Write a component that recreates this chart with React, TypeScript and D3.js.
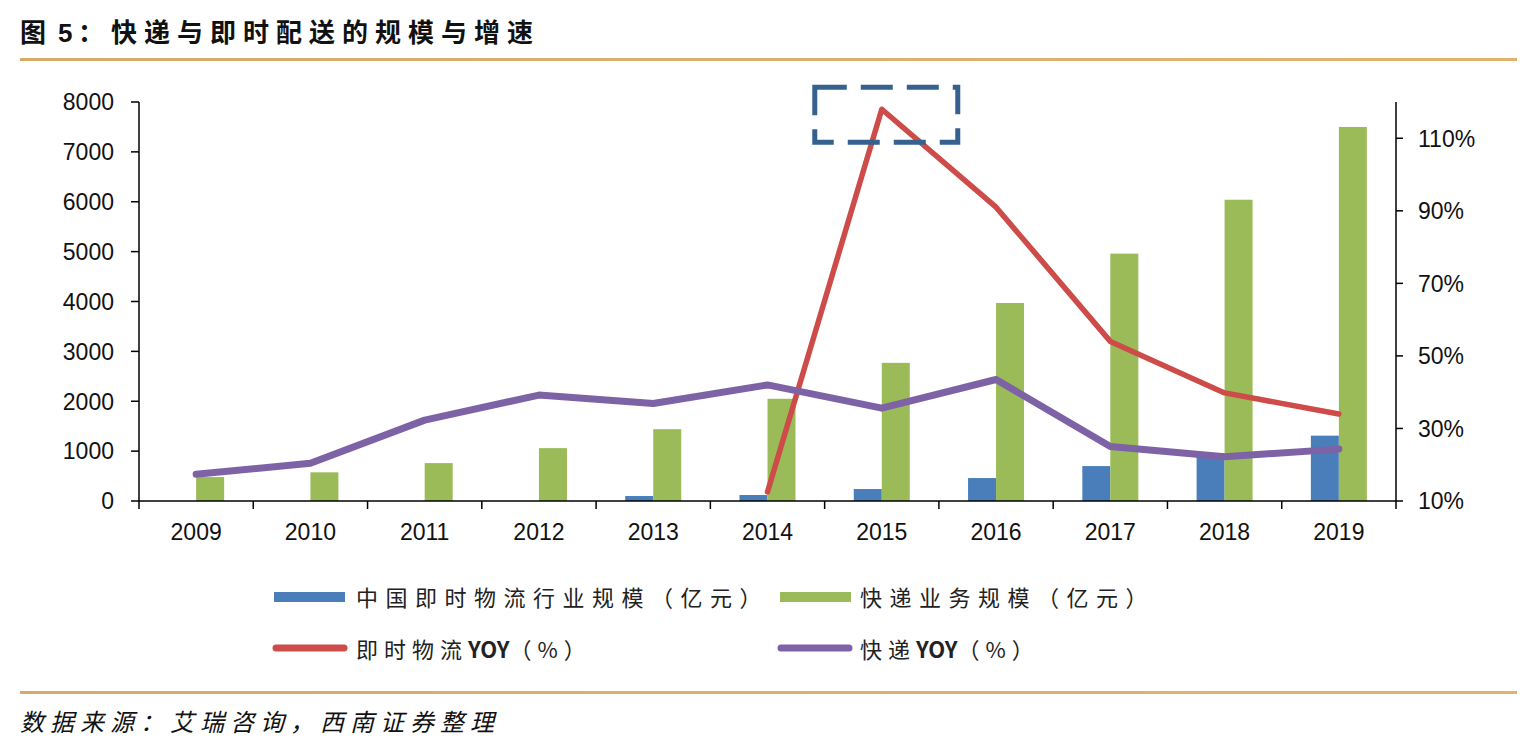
import React from 'react';
import * as d3 from 'd3';

const years = ['2009', '2010', '2011', '2012', '2013', '2014', '2015', '2016', '2017', '2018', '2019'];
const instantScale = [0, 0, 0, 0, 100, 120, 240, 460, 700, 960, 1310];
const expressScale = [480, 575, 760, 1060, 1440, 2050, 2770, 3970, 4960, 6040, 7500];
const instantYoY: (number | null)[] = [null, null, null, null, null, 12.5, 118, 91, 54, 39.8, 34];
const expressYoY = [17.4, 20.4, 32.3, 39.2, 36.9, 42, 35.6, 43.5, 25, 22.2, 24.3];
const leftTicks = [0, 1000, 2000, 3000, 4000, 5000, 6000, 7000, 8000];
const rightTicks = [10, 30, 50, 70, 90, 110];

const W = 1538;
const H = 754;
const left = 139;
const right = 1396;
const top = 102;
const bottom = 501;

const C_BLUE = '#4A7EBB';
const C_GREEN = '#9BBB59';
const C_RED = '#CD4B48';
const C_PURPLE = '#7E62A6';
const NUM_FONT = '"Liberation Sans", Arial, sans-serif';
const CJK_FONT = '"Noto Sans CJK SC", "Noto Sans", sans-serif';

export default function App() {
  const x = d3.scaleBand<string>().domain(years).range([left, right]).padding(0);
  const yL = d3.scaleLinear().domain([0, 8000]).range([bottom, top]);
  const yR = d3.scaleLinear().domain([10, 120]).range([bottom, top]);
  const bw = x.bandwidth() * 0.245;
  const cx = (y: string) => (x(y) as number) + x.bandwidth() / 2;

  const lineGen = d3
    .line<number | null>()
    .defined((d) => d !== null)
    .x((_, i) => cx(years[i]))
    .y((d) => yR(d as number));

  const redPath = lineGen(instantYoY) || '';
  const purplePath = lineGen(expressYoY) || '';

  const boundaries = years.map((y) => x(y) as number).concat([right]);

  const peakX = cx('2015');
  const peakY = yR(118);

  return (
    <div style={{ position: 'absolute', left: 0, top: 0, width: W, height: H, background: '#fff' }}>
      <svg width={W} height={H} style={{ display: 'block' }}>
        <defs>
          <linearGradient id="rule" x1="0" x2="1" y1="0" y2="0">
            <stop offset="0" stopColor="#D9A968" />
            <stop offset="1" stopColor="#E3B36E" />
          </linearGradient>
        </defs>
        <rect x={0} y={0} width={W} height={H} fill="#fff" />
        {/* Title */}
        <text x={20} y={42} fontFamily={CJK_FONT} fontWeight={700} fontSize={26} fill="#111">图</text>
        <text x={58} y={42} fontFamily={NUM_FONT} fontWeight={700} fontSize={26} fill="#111">5</text>
        <text x={78} y={42} fontFamily={CJK_FONT} fontWeight={700} fontSize={26} letterSpacing={7} fill="#111">
          ：快递与即时配送的规模与增速
        </text>
        <rect x={20} y={58} width={1497} height={3} fill="url(#rule)" />

        {/* Bars */}
        {years.map((yr, i) => (
          <g key={yr}>
            {instantScale[i] > 0 && (
              <rect
                x={cx(yr) - bw}
                y={yL(instantScale[i])}
                width={bw}
                height={bottom - yL(instantScale[i])}
                fill={C_BLUE}
              />
            )}
            <rect
              x={cx(yr)}
              y={yL(expressScale[i])}
              width={bw}
              height={bottom - yL(expressScale[i])}
              fill={C_GREEN}
            />
          </g>
        ))}

        {/* Lines */}
        <path d={redPath} fill="none" stroke={C_RED} strokeWidth={5.5} strokeLinejoin="round" strokeLinecap="round" />
        <path d={purplePath} fill="none" stroke={C_PURPLE} strokeWidth={7} strokeLinejoin="round" strokeLinecap="round" />

        {/* Left axis */}
        <line x1={left} x2={left} y1={top} y2={bottom} stroke="#000" strokeWidth={1.5} />
        {leftTicks.map((t) => (
          <g key={t}>
            <line x1={left - 8} x2={left} y1={yL(t)} y2={yL(t)} stroke="#000" strokeWidth={1.5} />
            <text
              x={114}
              y={yL(t)}
              dy="0.36em"
              textAnchor="end"
              fontFamily={NUM_FONT}
              fontSize={23}
              fill="#111"
            >
              {t}
            </text>
          </g>
        ))}

        {/* Right axis */}
        <line x1={right} x2={right} y1={top} y2={bottom} stroke="#000" strokeWidth={1.5} />
        {rightTicks.map((t) => (
          <g key={t}>
            <line x1={right} x2={right + 7} y1={yR(t)} y2={yR(t)} stroke="#000" strokeWidth={1.5} />
            <text
              x={1418}
              y={yR(t)}
              dy="0.36em"
              textAnchor="start"
              fontFamily={NUM_FONT}
              fontSize={23}
              fill="#111"
            >
              {t}%
            </text>
          </g>
        ))}

        {/* X axis */}
        <line x1={left} x2={right} y1={bottom} y2={bottom} stroke="#000" strokeWidth={1.5} />
        {boundaries.map((b, i) => (
          <line key={i} x1={b} x2={b} y1={bottom} y2={bottom + 8} stroke="#000" strokeWidth={1.5} />
        ))}
        {years.map((yr) => (
          <text
            key={yr}
            x={cx(yr)}
            y={540}
            textAnchor="middle"
            fontFamily={NUM_FONT}
            fontSize={23}
            fill="#111"
          >
            {yr}
          </text>
        ))}

        {/* Dashed annotation box */}
        <rect
          x={peakX - 67}
          y={peakY - 22}
          width={143}
          height={55}
          fill="none"
          stroke="#35618F"
          strokeWidth={5}
          strokeDasharray="32 14"
        />

        {/* Legend */}
        <rect x={274} y={592} width={71} height={10} fill={C_BLUE} />
        <text x={356} y={606} fontFamily={CJK_FONT} fontSize={22} letterSpacing={7.5} fill="#222">
          中国即时物流行业规模（亿元）
        </text>
        <rect x={780} y={592} width={71} height={10} fill={C_GREEN} />
        <text x={860} y={606} fontFamily={CJK_FONT} fontSize={22} letterSpacing={7.5} fill="#222">
          快递业务规模（亿元）
        </text>
        <line x1={276} x2={344} y1={648} y2={648} stroke={C_RED} strokeWidth={7} strokeLinecap="round" />
        <text x={356} y={658} fontFamily={CJK_FONT} fontSize={22} fill="#222">
          <tspan letterSpacing={6}>即时物流</tspan>
          <tspan fontWeight={700} letterSpacing={0}>YOY</tspan>
          <tspan letterSpacing={6}>（%）</tspan>
        </text>
        <line x1={781} x2={849} y1={648} y2={648} stroke={C_PURPLE} strokeWidth={7} strokeLinecap="round" />
        <text x={860} y={658} fontFamily={CJK_FONT} fontSize={22} fill="#222">
          <tspan letterSpacing={6}>快递</tspan>
          <tspan fontWeight={700} letterSpacing={0}>YOY</tspan>
          <tspan letterSpacing={6}>（%）</tspan>
        </text>

        {/* Bottom rule and source */}
        <rect x={20} y={691} width={1497} height={3} fill="url(#rule)" />
        <text
          x={20}
          y={731}
          fontFamily={CJK_FONT}
          fontStyle="italic"
          fontSize={24}
          letterSpacing={6}
          fill="#111"
        >
          数据来源：艾瑞咨询，西南证券整理
        </text>
      </svg>
    </div>
  );
}
